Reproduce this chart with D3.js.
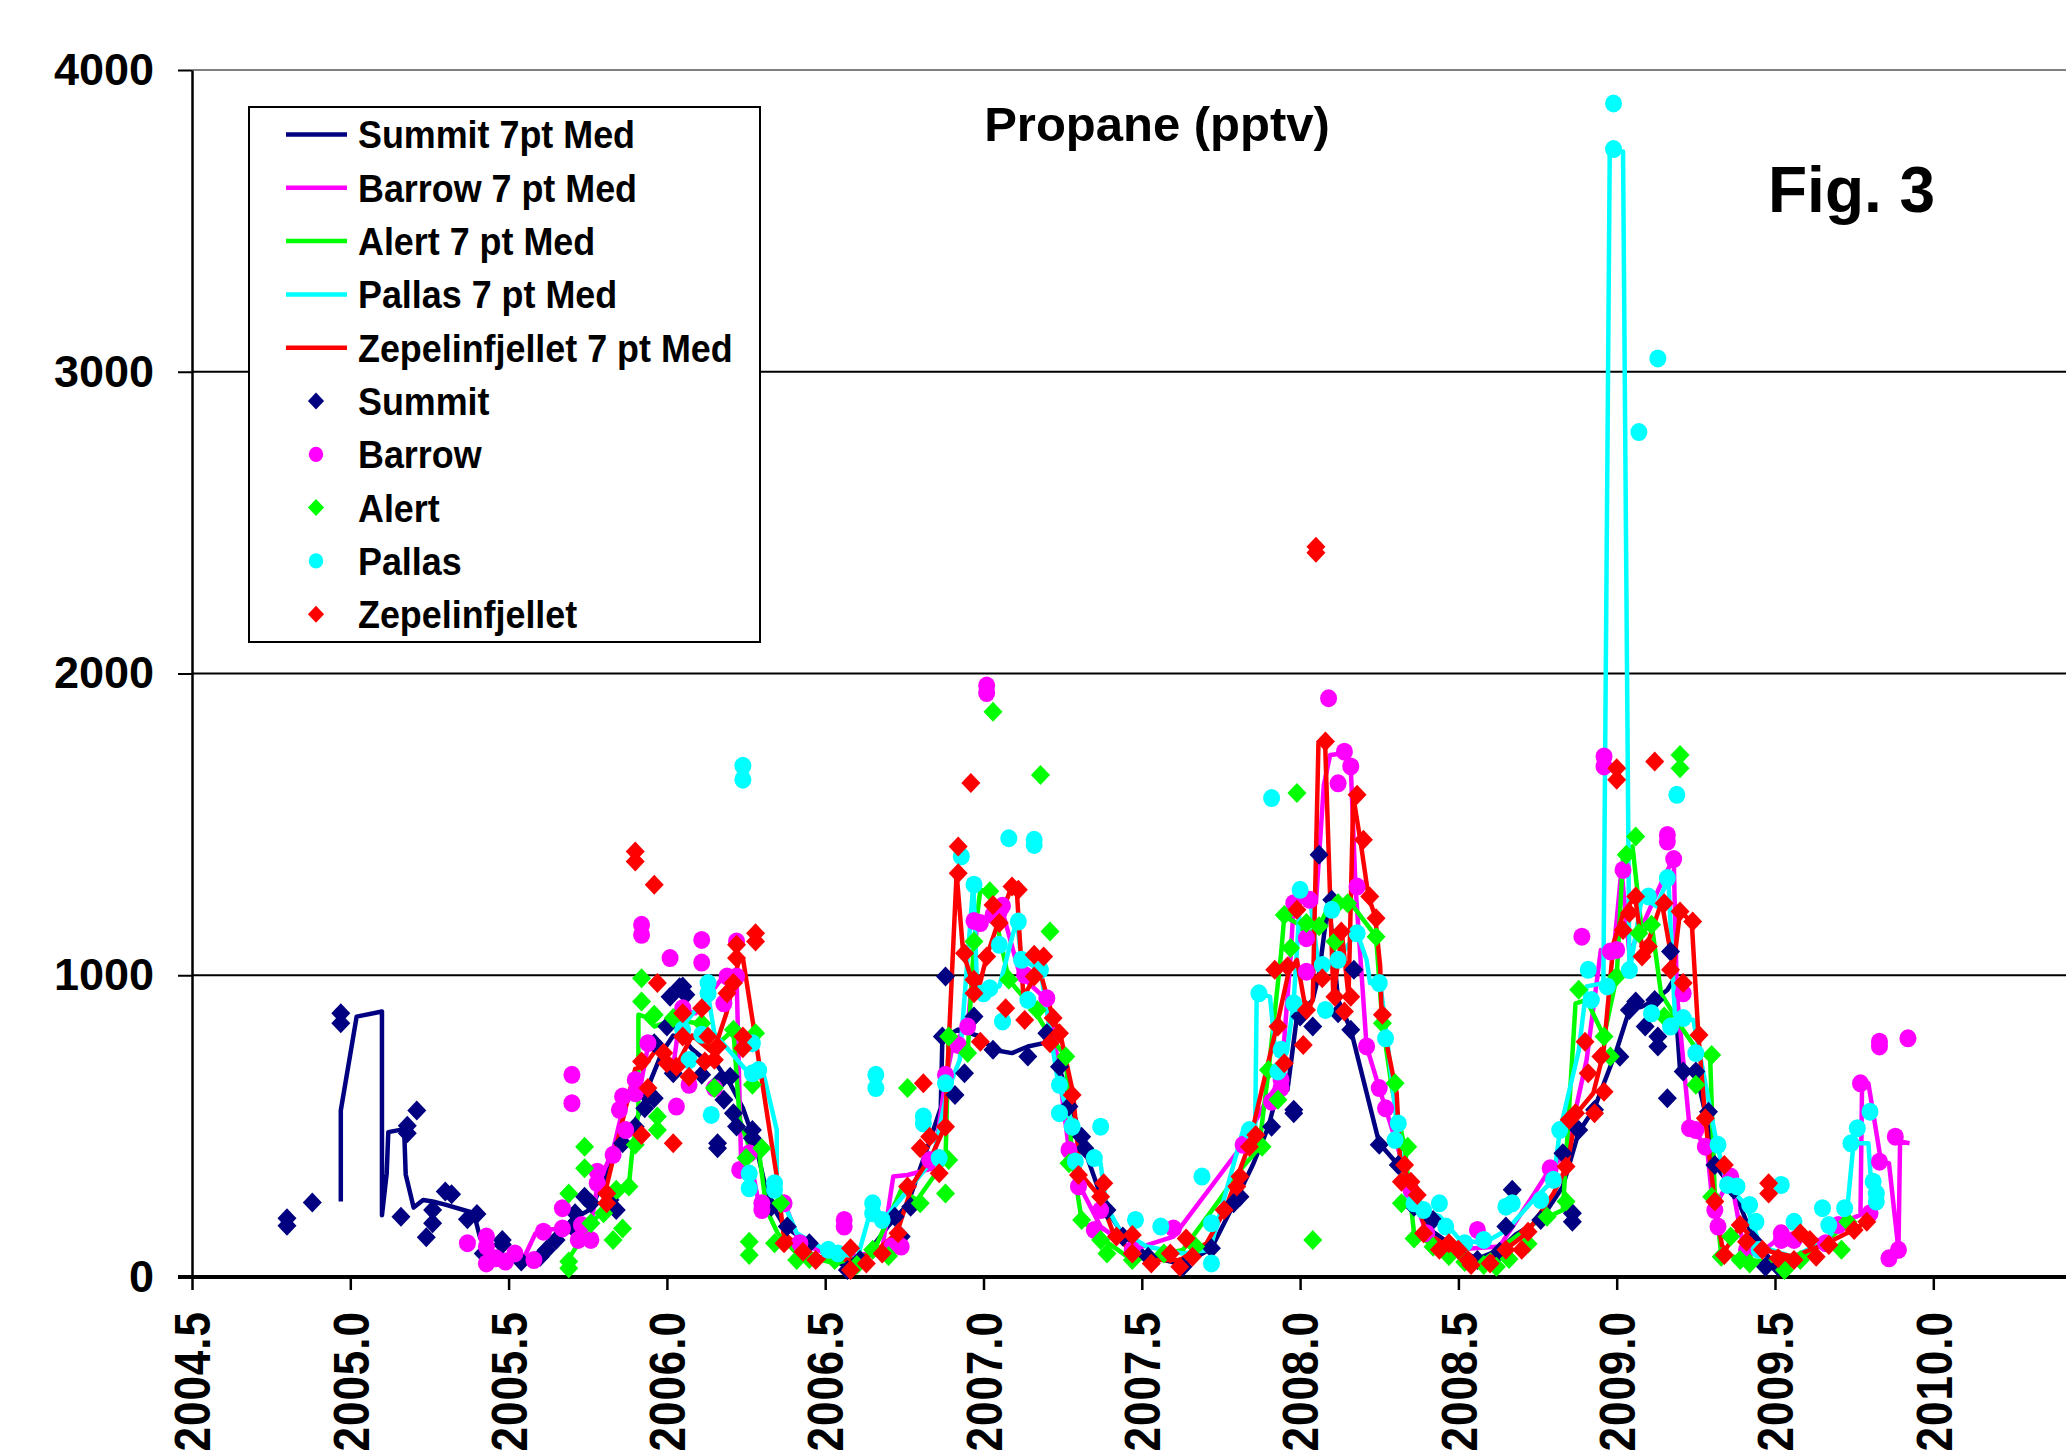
<!DOCTYPE html>
<html>
<head>
<meta charset="utf-8">
<script src="https://cdn.jsdelivr.net/npm/d3@7"></script>
<style>
  body { margin: 0; background: #fff; }
  svg { display: block; font-family: "Liberation Sans", Arial, sans-serif; font-weight: bold; }
</style>
</head>
<body>
<div id="chart"></div>
<script>
// chart size
var width = 2066;
var height = 1453;

// tick labels
var yTicks = [0, 1000, 2000, 3000, 4000];
var xTicks = [2004.5, 2005.0, 2005.5, 2006.0, 2006.5, 2007.0, 2007.5, 2008.0, 2008.5, 2009.0, 2009.5, 2010.0];

// legend / series names
var lineNames = ["Summit 7pt Med", "Barrow 7 pt Med", "Alert 7 pt Med", "Pallas 7 pt Med", "Zepelinfjellet 7 pt Med"];
var pointNames = ["Summit", "Barrow", "Alert", "Pallas", "Zepelinfjellet"];
var colors = ["#000080", "#ff00ff", "#00ff00", "#00ffff", "#ff0000"];
var shapes = ["diamond", "circle", "diamond", "circle", "diamond"];

// individual samples [year, pptv]
var summitPts = [[2004.80,195],[2004.80,170],[2004.88,247],[2004.97,874],[2004.97,841],[2005.16,200],[2005.18,501],[2005.18,476],[2005.21,552],[2005.24,132],[2005.26,222],[2005.26,178],[2005.30,283],[2005.32,274],[2005.37,191],[2005.40,209],[2005.42,78],[2005.48,123],[2005.48,108],[2005.54,51],[2005.60,67],[2005.62,90],[2005.65,123],[2005.70,167],[2005.71,211],[2005.74,266],[2005.76,244],[2005.82,255],[2005.84,222],[2005.86,443],[2005.90,498],[2005.93,559],[2005.94,598],[2005.96,592],[2005.96,775],[2006.00,830],[2006.01,929],[2006.02,675],[2006.04,960],[2006.05,963],[2006.06,935],[2006.11,670],[2006.16,443],[2006.16,427],[2006.17,653],[2006.18,587],[2006.20,664],[2006.21,543],[2006.22,499],[2006.27,487],[2006.27,460],[2006.33,233],[2006.38,167],[2006.45,112],[2006.57,23],[2006.61,56],[2006.72,200],[2006.74,134],[2006.77,233],[2006.87,797],[2006.88,996],[2006.91,603],[2006.94,675],[2006.97,863],[2007.03,753],[2007.14,731],[2007.20,808],[2007.24,697],[2007.27,565],[2007.31,465],[2007.32,427],[2007.39,222],[2007.44,134],[2007.52,67],[2007.63,34],[2007.72,95],[2007.79,244],[2007.81,266],[2007.91,498],[2007.98,554],[2007.98,543],[2008.00,863],[2008.04,830],[2008.06,1399],[2008.10,1250],[2008.12,874],[2008.16,819],[2008.17,1018],[2008.25,438],[2008.31,371],[2008.36,233],[2008.42,189],[2008.50,90],[2008.56,56],[2008.63,84],[2008.65,167],[2008.67,289],[2008.76,189],[2008.83,410],[2008.86,211],[2008.86,183],[2008.88,487],[2008.93,554],[2009.01,730],[2009.04,885],[2009.06,913],[2009.09,830],[2009.12,918],[2009.13,797],[2009.13,764],[2009.16,592],[2009.17,1079],[2009.21,681],[2009.25,681],[2009.29,548],[2009.31,371],[2009.37,289],[2009.43,123],[2009.47,34],[2009.51,34]];

var barrowPts = [[2005.37,112],[2005.43,134],[2005.43,101],[2005.43,45],[2005.46,62],[2005.49,51],[2005.52,78],[2005.58,56],[2005.61,150],[2005.67,228],[2005.67,161],[2005.70,670],[2005.70,576],[2005.72,123],[2005.73,172],[2005.76,123],[2005.78,349],[2005.78,311],[2005.83,405],[2005.85,554],[2005.86,598],[2005.87,487],[2005.90,653],[2005.90,609],[2005.92,1167],[2005.92,1134],[2005.94,775],[2006.01,1057],[2006.03,565],[2006.05,891],[2006.07,637],[2006.11,1117],[2006.11,1042],[2006.15,626],[2006.18,907],[2006.19,996],[2006.22,1112],[2006.22,996],[2006.23,355],[2006.26,410],[2006.30,244],[2006.30,222],[2006.37,244],[2006.42,112],[2006.56,189],[2006.56,167],[2006.71,101],[2006.74,101],[2006.83,388],[2006.88,670],[2006.92,769],[2006.95,830],[2006.97,1180],[2006.99,1173],[2007.01,1960],[2007.01,1935],[2007.03,1200],[2007.05,1211],[2007.06,1230],[2007.13,1001],[2007.20,924],[2007.27,421],[2007.30,300],[2007.35,156],[2007.37,222],[2007.47,90],[2007.60,161],[2007.82,438],[2007.91,581],[2007.94,626],[2007.94,653],[2007.98,1239],[2008.02,1123],[2008.02,1012],[2008.03,1250],[2008.09,1918],[2008.12,1636],[2008.14,1741],[2008.16,1692],[2008.18,1294],[2008.21,764],[2008.25,626],[2008.27,559],[2008.35,289],[2008.40,145],[2008.56,156],[2008.79,360],[2008.89,1128],[2008.96,1725],[2008.96,1692],[2008.98,1079],[2009.00,1084],[2009.02,1349],[2009.16,1465],[2009.16,1443],[2009.18,1385],[2009.21,940],[2009.23,493],[2009.25,487],[2009.28,432],[2009.31,222],[2009.32,167],[2009.36,333],[2009.41,90],[2009.52,145],[2009.52,123],[2009.56,123],[2009.66,112],[2009.70,172],[2009.77,642],[2009.80,211],[2009.83,780],[2009.83,764],[2009.83,382],[2009.86,62],[2009.88,465],[2009.89,90],[2009.92,791]];

var alertPts = [[2005.69,51],[2005.69,29],[2005.69,277],[2005.74,432],[2005.74,360],[2005.76,178],[2005.80,211],[2005.83,123],[2005.84,289],[2005.86,161],[2005.88,300],[2005.90,438],[2005.92,990],[2005.92,913],[2005.96,869],[2005.97,532],[2005.97,487],[2006.02,858],[2006.11,841],[2006.15,626],[2006.21,819],[2006.25,394],[2006.26,117],[2006.26,73],[2006.27,637],[2006.28,808],[2006.30,427],[2006.34,112],[2006.36,244],[2006.41,56],[2006.45,60],[2006.53,56],[2006.60,40],[2006.65,90],[2006.70,70],[2006.76,626],[2006.80,244],[2006.88,277],[2006.89,388],[2006.89,797],[2006.95,742],[2006.97,1112],[2007.02,1278],[2007.03,1873],[2007.08,985],[2007.17,885],[2007.18,1664],[2007.21,1145],[2007.26,731],[2007.27,377],[2007.31,189],[2007.37,123],[2007.39,78],[2007.47,56],[2007.57,78],[2007.67,101],[2007.88,432],[2007.90,686],[2007.93,587],[2007.95,1200],[2007.97,1090],[2007.99,1604],[2008.02,1173],[2008.04,123],[2008.06,1162],[2008.11,1112],[2008.12,1239],[2008.15,1239],[2008.24,1128],[2008.26,841],[2008.30,642],[2008.32,244],[2008.34,432],[2008.36,128],[2008.42,100],[2008.47,70],[2008.52,50],[2008.58,40],[2008.62,34],[2008.66,60],[2008.72,110],[2008.78,200],[2008.84,250],[2008.88,952],[2008.96,797],[2008.98,731],[2009.00,996],[2009.03,1399],[2009.06,1460],[2009.07,1139],[2009.11,1167],[2009.15,863],[2009.20,1730],[2009.20,1686],[2009.25,637],[2009.30,736],[2009.30,266],[2009.33,67],[2009.36,134],[2009.39,56],[2009.42,45],[2009.53,23],[2009.58,56],[2009.71,90],[2009.73,183]];

var pallasPts = [[2006.05,819],[2006.07,719],[2006.11,803],[2006.13,974],[2006.13,940],[2006.14,537],[2006.24,1694],[2006.24,1648],[2006.26,343],[2006.26,294],[2006.27,775],[2006.27,675],[2006.29,686],[2006.34,311],[2006.34,289],[2006.51,90],[2006.54,78],[2006.65,244],[2006.65,211],[2006.66,670],[2006.66,626],[2006.68,189],[2006.81,532],[2006.81,509],[2006.86,394],[2006.88,642],[2006.93,1394],[2006.97,1300],[2007.00,940],[2007.02,957],[2007.05,1101],[2007.06,847],[2007.08,1454],[2007.11,1178],[2007.12,1051],[2007.14,918],[2007.16,1449],[2007.16,1432],[2007.18,1018],[2007.24,637],[2007.24,543],[2007.28,498],[2007.29,383],[2007.35,394],[2007.37,498],[2007.48,189],[2007.56,167],[2007.69,333],[2007.72,178],[2007.72,45],[2007.84,487],[2007.87,940],[2007.91,1587],[2007.93,681],[2007.94,753],[2007.98,907],[2008.00,1283],[2008.07,1034],[2008.08,885],[2008.10,1217],[2008.12,1051],[2008.18,1139],[2008.25,974],[2008.27,791],[2008.30,454],[2008.31,509],[2008.36,244],[2008.39,222],[2008.44,244],[2008.46,167],[2008.52,112],[2008.58,123],[2008.65,233],[2008.67,244],[2008.76,255],[2008.80,322],[2008.82,487],[2008.91,1018],[2008.92,918],[2008.97,963],[2008.99,3889],[2008.99,3738],[2009.04,1017],[2009.07,2800],[2009.10,1261],[2009.11,874],[2009.13,3044],[2009.16,1322],[2009.17,830],[2009.19,1598],[2009.21,858],[2009.25,742],[2009.32,438],[2009.35,305],[2009.38,300],[2009.42,239],[2009.44,183],[2009.45,90],[2009.52,305],[2009.56,183],[2009.65,228],[2009.67,172],[2009.72,228],[2009.74,443],[2009.76,493],[2009.80,548],[2009.81,316],[2009.82,277],[2009.82,250]];

var zepPts = [[2005.81,277],[2005.81,244],[2005.90,1410],[2005.90,1377],[2005.92,714],[2005.92,471],[2005.94,626],[2005.96,1300],[2005.97,974],[2005.99,742],[2006.00,708],[2006.02,443],[2006.03,697],[2006.05,874],[2006.05,797],[2006.07,664],[2006.11,891],[2006.12,714],[2006.13,797],[2006.15,720],[2006.16,764],[2006.19,940],[2006.21,974],[2006.22,1101],[2006.22,1057],[2006.24,797],[2006.24,758],[2006.28,1139],[2006.28,1112],[2006.37,112],[2006.43,84],[2006.47,56],[2006.58,95],[2006.58,23],[2006.63,45],[2006.68,78],[2006.73,145],[2006.76,300],[2006.80,427],[2006.81,642],[2006.83,465],[2006.86,344],[2006.88,498],[2006.92,1427],[2006.92,1338],[2006.94,1073],[2006.96,1637],[2006.97,985],[2006.97,940],[2006.99,780],[2007.01,1062],[2007.03,1233],[2007.05,1173],[2007.07,891],[2007.09,1294],[2007.11,1283],[2007.13,852],[2007.16,996],[2007.16,1068],[2007.19,1062],[2007.21,775],[2007.22,858],[2007.24,808],[2007.28,603],[2007.30,338],[2007.37,266],[2007.38,311],[2007.42,134],[2007.47,139],[2007.47,78],[2007.53,45],[2007.59,78],[2007.62,34],[2007.64,128],[2007.66,67],[2007.76,222],[2007.80,300],[2007.81,333],[2007.84,432],[2007.86,471],[2007.92,1018],[2007.93,830],[2007.95,708],[2007.96,1029],[2007.99,1217],[2008.01,769],[2008.02,885],[2008.05,2420],[2008.05,2400],[2008.07,990],[2008.08,1775],[2008.11,929],[2008.13,1145],[2008.14,880],[2008.16,929],[2008.18,1598],[2008.20,1449],[2008.22,1261],[2008.24,1189],[2008.26,869],[2008.32,316],[2008.33,371],[2008.35,316],[2008.37,272],[2008.39,145],[2008.44,90],[2008.47,112],[2008.50,90],[2008.53,56],[2008.54,40],[2008.60,45],[2008.65,90],[2008.70,90],[2008.72,150],[2008.84,366],[2008.85,521],[2008.87,543],[2008.90,780],[2008.91,675],[2008.93,543],[2008.95,731],[2008.96,614],[2009.00,1686],[2009.00,1648],[2009.02,1150],[2009.04,1206],[2009.06,1261],[2009.08,1062],[2009.10,1095],[2009.12,1708],[2009.15,1239],[2009.17,1018],[2009.20,1211],[2009.21,974],[2009.24,1178],[2009.26,802],[2009.28,526],[2009.31,250],[2009.34,73],[2009.34,371],[2009.39,172],[2009.41,117],[2009.46,90],[2009.48,311],[2009.48,277],[2009.51,62],[2009.56,56],[2009.58,145],[2009.61,123],[2009.63,67],[2009.67,106],[2009.75,156],[2009.79,183]];

// 7 point running medians [year, pptv]
var summitMed = [[2004.97,250],[2004.97,552],[2005.02,863],[2005.10,880],[2005.10,205],[2005.115,344],[2005.12,480],[2005.17,490],[2005.175,340],[2005.20,230],[2005.23,255],[2005.26,250],[2005.30,240],[2005.39,212],[2005.41,130],[2005.45,80],[2005.54,55],[2005.62,90],[2005.70,190],[2005.76,225],[2005.83,390],[2005.85,465],[2005.88,480],[2005.92,555],[2005.95,655],[2005.985,745],[2006.02,800],[2006.05,790],[2006.08,755],[2006.12,720],[2006.16,700],[2006.20,640],[2006.24,560],[2006.28,440],[2006.32,260],[2006.37,170],[2006.45,110],[2006.57,30],[2006.62,60],[2006.70,170],[2006.76,240],[2006.82,420],[2006.865,560],[2006.87,790],[2006.92,820],[2006.99,797],[2007.03,753],[2007.09,742],[2007.14,764],[2007.19,775],[2007.21,800],[2007.24,690],[2007.28,560],[2007.32,420],[2007.38,240],[2007.44,140],[2007.52,70],[2007.63,40],[2007.72,95],[2007.79,240],[2007.85,370],[2007.90,498],[2007.93,620],[2007.96,620],[2007.99,863],[2008.04,918],[2008.06,1007],[2008.09,1250],[2008.12,918],[2008.16,820],[2008.25,443],[2008.31,371],[2008.36,230],[2008.42,150],[2008.50,90],[2008.56,60],[2008.63,90],[2008.68,140],[2008.76,190],[2008.83,300],[2008.88,480],[2008.93,560],[2009.00,753],[2009.04,885],[2009.08,896],[2009.12,918],[2009.16,951],[2009.18,985],[2009.20,687],[2009.25,681],[2009.28,543],[2009.31,371],[2009.37,290],[2009.43,130],[2009.50,40],[2009.55,30]];

var barrowMed = [[2005.55,67],[2005.585,145],[2005.61,156],[2005.67,161],[2005.71,167],[2005.76,170],[2005.78,300],[2005.83,421],[2005.86,554],[2005.89,609],[2005.92,653],[2005.94,764],[2005.97,775],[2006.02,697],[2006.04,852],[2006.06,885],[2006.09,874],[2006.17,985],[2006.22,1001],[2006.235,355],[2006.27,355],[2006.29,244],[2006.38,222],[2006.42,112],[2006.50,80],[2006.60,70],[2006.68,90],[2006.715,333],[2006.76,338],[2006.84,360],[2006.88,653],[2006.905,775],[2006.95,830],[2006.98,1173],[2007.03,1200],[2007.06,1211],[2007.115,1001],[2007.20,918],[2007.22,830],[2007.27,421],[2007.305,300],[2007.37,167],[2007.47,90],[2007.60,134],[2007.82,440],[2007.895,587],[2007.94,653],[2007.97,1062],[2007.98,1239],[2008.02,1250],[2008.05,1240],[2008.075,1631],[2008.095,1730],[2008.14,1736],[2008.16,1691],[2008.175,1294],[2008.21,764],[2008.25,626],[2008.27,559],[2008.35,289],[2008.40,145],[2008.48,90],[2008.63,101],[2008.74,277],[2008.79,360],[2008.84,410],[2008.905,720],[2008.95,1084],[2008.99,1073],[2009.015,1349],[2009.04,1073],[2009.08,1162],[2009.15,1327],[2009.18,1388],[2009.19,940],[2009.23,498],[2009.285,432],[2009.305,222],[2009.36,330],[2009.40,101],[2009.45,78],[2009.52,134],[2009.56,123],[2009.66,123],[2009.73,189],[2009.77,206],[2009.775,642],[2009.795,642],[2009.835,382],[2009.86,377],[2009.89,90],[2009.895,449],[2009.925,443]];

var alertMed = [[2005.69,60],[2005.76,178],[2005.88,305],[2005.89,410],[2005.91,543],[2005.91,869],[2005.93,863],[2005.96,830],[2006.02,852],[2006.10,841],[2006.14,753],[2006.21,819],[2006.23,521],[2006.26,432],[2006.29,421],[2006.315,222],[2006.35,145],[2006.41,78],[2006.53,45],[2006.65,78],[2006.74,289],[2006.79,255],[2006.88,388],[2006.89,797],[2006.95,742],[2006.97,1112],[2006.99,1283],[2007.02,1278],[2007.08,985],[2007.16,885],[2007.21,797],[2007.26,731],[2007.28,388],[2007.31,189],[2007.38,123],[2007.47,56],[2007.63,90],[2007.73,233],[2007.82,366],[2007.87,427],[2007.90,681],[2007.94,1073],[2007.95,1195],[2007.99,1173],[2008.02,1134],[2008.06,1162],[2008.10,1250],[2008.12,1239],[2008.16,1239],[2008.24,1128],[2008.26,841],[2008.29,626],[2008.33,432],[2008.36,145],[2008.46,78],[2008.58,56],[2008.74,178],[2008.83,222],[2008.87,907],[2008.905,918],[2008.96,797],[2009.00,996],[2009.02,1394],[2009.05,1427],[2009.08,1139],[2009.11,1173],[2009.14,940],[2009.21,819],[2009.26,742],[2009.295,731],[2009.31,266],[2009.33,78],[2009.41,56],[2009.56,45],[2009.72,167]];

var pallasMed = [[2006.04,819],[2006.13,935],[2006.15,807],[2006.25,686],[2006.30,697],[2006.347,487],[2006.347,300],[2006.41,145],[2006.50,90],[2006.56,78],[2006.60,56],[2006.647,233],[2006.684,189],[2006.736,255],[2006.84,388],[2006.884,609],[2006.925,720],[2006.968,1305],[2006.98,951],[2007.01,951],[2007.05,963],[2007.105,1184],[2007.12,1051],[2007.18,1018],[2007.236,642],[2007.283,498],[2007.368,388],[2007.389,233],[2007.43,156],[2007.515,101],[2007.63,78],[2007.715,90],[2007.82,487],[2007.858,487],[2007.863,940],[2007.905,929],[2007.92,764],[2007.958,747],[2007.979,902],[2008.0,1250],[2008.032,1250],[2008.058,1029],[2008.121,1051],[2008.179,1145],[2008.21,1051],[2008.221,974],[2008.253,974],[2008.274,797],[2008.305,509],[2008.337,244],[2008.39,222],[2008.442,200],[2008.505,123],[2008.579,112],[2008.653,156],[2008.737,255],[2008.80,322],[2008.821,487],[2008.88,750],[2008.905,963],[2008.958,974],[2008.978,3730],[2009.02,3730],[2009.04,1007],[2009.08,1261],[2009.126,1228],[2009.163,1322],[2009.184,863],[2009.242,852],[2009.316,443],[2009.347,311],[2009.411,233],[2009.453,101],[2009.558,67],[2009.663,123],[2009.727,211],[2009.748,443],[2009.795,443],[2009.805,289],[2009.821,250]];

var zepMed = [[2005.80,260],[2005.90,690],[2005.93,700],[2005.97,760],[2006.03,700],[2006.08,800],[2006.146,742],[2006.188,874],[2006.205,951],[2006.23,1062],[2006.241,1051],[2006.347,333],[2006.368,145],[2006.43,90],[2006.473,67],[2006.578,56],[2006.652,78],[2006.726,145],[2006.778,311],[2006.84,410],[2006.878,498],[2006.915,1338],[2006.936,1073],[2006.963,985],[2006.989,974],[2007.01,1062],[2007.042,1162],[2007.089,1294],[2007.105,1283],[2007.126,929],[2007.157,985],[2007.18,1007],[2007.22,858],[2007.242,808],[2007.283,609],[2007.305,344],[2007.368,266],[2007.41,145],[2007.473,78],[2007.526,56],[2007.62,56],[2007.705,112],[2007.763,222],[2007.837,432],[2007.926,830],[2007.963,1007],[2007.99,1051],[2008.02,874],[2008.04,918],[2008.058,1769],[2008.079,1769],[2008.105,929],[2008.132,1139],[2008.153,929],[2008.168,1592],[2008.19,1449],[2008.216,1261],[2008.237,1195],[2008.253,1029],[2008.258,852],[2008.305,609],[2008.316,388],[2008.358,289],[2008.40,145],[2008.484,90],[2008.558,45],[2008.632,78],[2008.716,145],[2008.80,277],[2008.842,366],[2008.874,543],[2008.926,609],[2008.958,742],[2008.99,1106],[2009.021,1206],[2009.058,1261],[2009.084,1062],[2009.142,1244],[2009.179,1023],[2009.20,1211],[2009.237,1178],[2009.258,802],[2009.28,521],[2009.31,244],[2009.337,78],[2009.39,172],[2009.463,90],[2009.558,67],[2009.663,112],[2009.747,156],[2009.79,183]];

var medians = [summitMed, barrowMed, alertMed, pallasMed, zepMed];
var points = [summitPts, barrowPts, alertPts, pallasPts, zepPts];

// plot area
var plotLeft = 192, plotTop = 70, plotBottom = 1277, yearPx = 316.6;

var svg = d3.select("#chart").append("svg")
    .attr("width", width)
    .attr("height", height);

var x = d3.scaleLinear()
    .domain([2004.5, 2010.5])
    .range([plotLeft, plotLeft + 6 * yearPx]);

var y = d3.scaleLinear()
    .domain([0, 4000])
    .range([plotBottom, plotTop]);

// gridlines
svg.append("g").selectAll("line")
    .data(yTicks.slice(1)).enter()
    .append("line")
    .attr("x1", plotLeft).attr("x2", width)
    .attr("y1", function(d) { return y(d); })
    .attr("y2", function(d) { return y(d); })
    .attr("stroke", function(d) { return d == 4000 ? "#808080" : "#000"; })
    .attr("stroke-width", 2);

// y axis
var yAxis = svg.append("g")
    .attr("transform", "translate(" + plotLeft + ",0)")
    .call(d3.axisLeft(y).tickValues(yTicks).tickSize(14).tickSizeOuter(0).tickPadding(24).tickFormat(d3.format("d")));
yAxis.select(".domain").attr("stroke", "#000").attr("stroke-width", 2.5);
yAxis.selectAll(".tick line").attr("stroke", "#000").attr("stroke-width", 2);
yAxis.selectAll("text")
    .attr("fill", "#000")
    .style("font-size", "45px")
    .style("font-weight", "bold")
    .style("font-family", "'Liberation Sans', Arial, sans-serif");

// x axis
var xAxis = svg.append("g")
    .attr("transform", "translate(0," + plotBottom + ")")
    .call(d3.axisBottom(x).tickValues(xTicks).tickSize(13).tickSizeOuter(0).tickFormat(d3.format(".1f")));
xAxis.select(".domain").attr("stroke", "#000").attr("stroke-width", 4)
    .attr("d", "M" + (plotLeft - 14) + ",0H" + width);
xAxis.selectAll(".tick line").attr("stroke", "#000").attr("stroke-width", 2.5);
xAxis.selectAll("text")
    .attr("fill", "#000")
    .attr("x", 0)
    .attr("y", 0)
    .attr("dy", "0.36em")
    .attr("transform", "translate(0,34) rotate(-90) scale(1,1.12)")
    .style("text-anchor", "end")
    .style("font-size", "44px")
    .style("font-weight", "bold")
    .style("letter-spacing", "1px")
    .style("font-family", "'Liberation Sans', Arial, sans-serif");

// median lines
var line = d3.line()
    .x(function(d) { return x(d[0]); })
    .y(function(d) { return y(d[1]); });

svg.append("g").selectAll("path")
    .data(medians).enter()
    .append("path")
    .attr("d", line)
    .attr("fill", "none")
    .attr("stroke", function(d, i) { return colors[i]; })
    .attr("stroke-width", 4.5)
    .attr("stroke-linejoin", "round");

// markers
function drawMarker(sel, shape, color) {
    if (shape == "diamond") {
        sel.append("path")
            .attr("d", "M0,-10L9.5,0L0,10L-9.5,0Z")
            .attr("fill", color);
    } else {
        sel.append("ellipse")
            .attr("rx", 8.5).attr("ry", 9)
            .attr("fill", color);
    }
}

points.forEach(function(pts, i) {
    var g = svg.append("g").selectAll("g")
        .data(pts).enter()
        .append("g")
        .attr("transform", function(d) { return "translate(" + x(d[0]) + "," + y(d[1]) + ")"; });
    drawMarker(g, shapes[i], colors[i]);
});

// title texts
svg.append("text")
    .attr("x", 1157).attr("y", 141)
    .attr("text-anchor", "middle")
    .style("font-size", "49px")
    .text("Propane (pptv)");

svg.append("text")
    .attr("x", 1768).attr("y", 212)
    .style("font-size", "64px")
    .text("Fig. 3");

// legend
var legend = svg.append("g");
legend.append("rect")
    .attr("x", 249).attr("y", 107)
    .attr("width", 511).attr("height", 535)
    .attr("fill", "#fff")
    .attr("stroke", "#000")
    .attr("stroke-width", 2);

var rowY = function(i) { return 134.5 + i * 53.3; };

lineNames.forEach(function(name, i) {
    legend.append("line")
        .attr("x1", 286).attr("x2", 347)
        .attr("y1", rowY(i)).attr("y2", rowY(i))
        .attr("stroke", colors[i])
        .attr("stroke-width", 4.5);
    legend.append("text")
        .attr("transform", "translate(358," + rowY(i) + ") scale(0.97,1.05)")
        .attr("dy", "0.36em")
        .style("font-size", "37px")
        .text(name);
});

pointNames.forEach(function(name, i) {
    var g = legend.append("g")
        .attr("transform", "translate(316," + rowY(i + 5) + ") scale(0.85)");
    drawMarker(g, shapes[i], colors[i]);
    legend.append("text")
        .attr("transform", "translate(358," + rowY(i + 5) + ") scale(0.97,1.05)")
        .attr("dy", "0.36em")
        .style("font-size", "37px")
        .text(name);
});
</script>
</body>
</html>
